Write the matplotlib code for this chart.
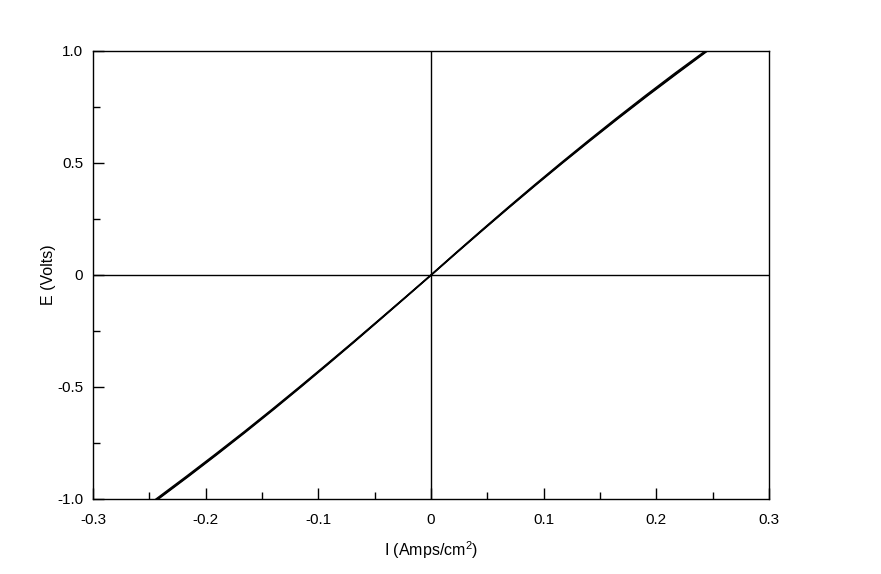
import numpy as np
import matplotlib
matplotlib.use("Agg")
import matplotlib.pyplot as plt
from matplotlib.ticker import MultipleLocator, FuncFormatter

plt.rcParams['font.family'] = ['Liberation Sans', 'DejaVu Sans']
plt.rcParams['mathtext.fontset'] = 'custom'
plt.rcParams['mathtext.rm'] = 'Liberation Sans'

# potential steps of the sweep (Volts)
E = [-1.0, -0.9, -0.8, -0.7, -0.6, -0.5, -0.4, -0.3, -0.2, -0.1, 0.0,
     0.1, 0.2, 0.3, 0.4, 0.5, 0.6, 0.7, 0.8, 0.9, 1.0]

# current density for each scan (Amps/cm2)
I_up_1 = [-0.2430, -0.2165, -0.1906, -0.1652, -0.1405, -0.1163, -0.0925, -0.0690, -0.0459, -0.0229, 0.0000,
          0.0225, 0.0453, 0.0684, 0.0919, 0.1159, 0.1404, 0.1654, 0.1910, 0.2173, 0.2443]
I_down_1 = [-0.2418, -0.2153, -0.1894, -0.1641, -0.1394, -0.1153, -0.0916, -0.0682, -0.0452, -0.0223, 0.0005,
            0.0231, 0.0460, 0.0692, 0.0928, 0.1169, 0.1415, 0.1666, 0.1923, 0.2187, 0.2455]
I_up_2 = [-0.2442, -0.2176, -0.1916, -0.1661, -0.1413, -0.1170, -0.0931, -0.0695, -0.0463, -0.0232, -0.0003,
          0.0221, 0.0448, 0.0678, 0.0912, 0.1151, 0.1395, 0.1644, 0.1899, 0.2161, 0.2432]
I_down_2 = [-0.2424, -0.2159, -0.1900, -0.1647, -0.1400, -0.1158, -0.0921, -0.0686, -0.0455, -0.0226, 0.0002,
            0.0228, 0.0457, 0.0688, 0.0924, 0.1164, 0.1410, 0.1660, 0.1917, 0.2180, 0.2449]

fig = plt.figure(figsize=(8.81, 5.74), dpi=100)
ax = fig.add_axes([93/881, 1-499/574, 676/881, 448/574])

for scan in (I_up_1, I_down_1, I_up_2, I_down_2):
    ax.plot(scan, E, color='black', lw=0.9)

ax.axhline(0, color='black', lw=1)
ax.axvline(0, color='black', lw=1)

ax.set_xlim(-0.3, 0.3)
ax.set_ylim(-1.0, 1.0)
ax.xaxis.set_major_locator(MultipleLocator(0.1))
ax.xaxis.set_minor_locator(MultipleLocator(0.05))
ax.yaxis.set_major_locator(MultipleLocator(0.5))
ax.yaxis.set_minor_locator(MultipleLocator(0.25))


def fmt(v, pos):
    if abs(v) < 1e-9:
        return '0'
    return ('%.1f' % v).replace('\u2212', '-')


ax.xaxis.set_major_formatter(FuncFormatter(fmt))
ax.yaxis.set_major_formatter(FuncFormatter(fmt))

ax.tick_params(which='both', direction='in', top=False, right=False, width=1, labelsize=11)
ax.tick_params(axis='x', which='major', length=8, pad=10)
ax.tick_params(axis='y', which='major', length=8, pad=7)
ax.tick_params(which='minor', length=5)
for s in ax.spines.values():
    s.set_linewidth(1)

ax.set_xlabel('I (Amps/cm$^2$)', fontsize=11.5, labelpad=9)
ax.set_ylabel('E (Volts)', fontsize=11.5, labelpad=1)

fig.savefig('out.png', dpi=100)
